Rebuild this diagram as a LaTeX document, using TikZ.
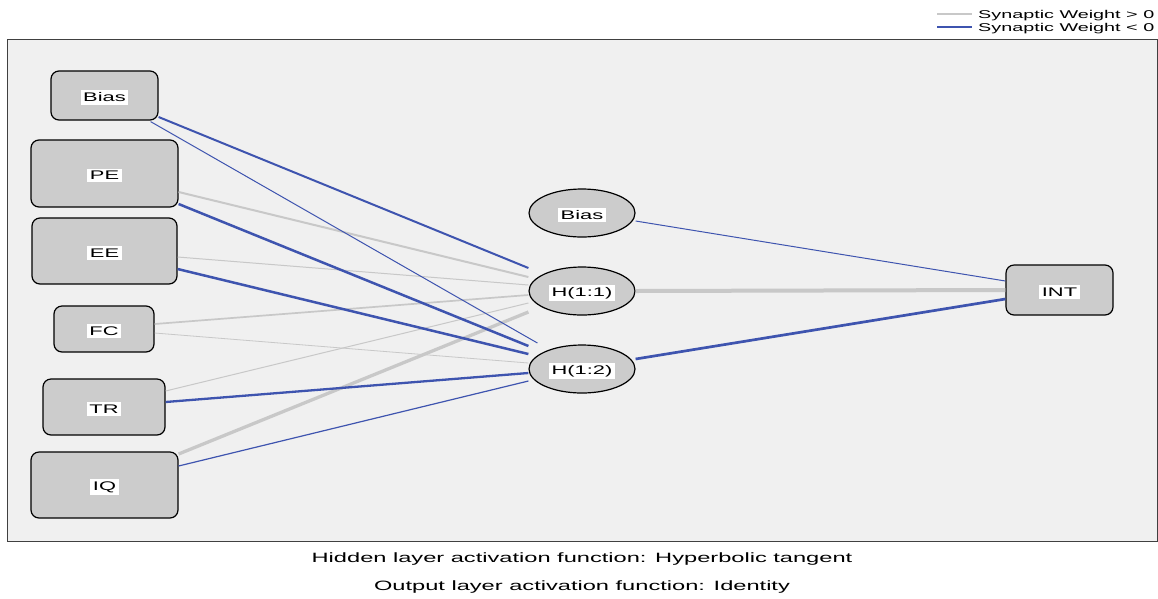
\documentclass[tikz,border=0pt]{standalone}
\usepackage{fontspec}
\setmainfont{Liberation Sans}[FakeStretch=1.75]
\usetikzlibrary{shapes.geometric}
\definecolor{posw}{RGB}{200,200,200}
\definecolor{negw}{RGB}{62,84,175}
\definecolor{unitgray}{RGB}{204,204,204}
\definecolor{panel}{RGB}{240,240,240}
\newcommand\wlabel[1]{\raisebox{-2pt}[\height][\depth]{\setlength{\fboxsep}{2.5pt}\colorbox{white}{#1}}}
\begin{document}
\begin{tikzpicture}[x=1pt,y=-1pt,
  every node/.style={font=\fontsize{12.5}{14}\selectfont},
  unit/.style={draw,line width=1.2pt,fill=unitgray,rounded corners=8pt,inner sep=0pt},
  hidden/.style={draw,line width=1.2pt,fill=unitgray,ellipse,minimum width=106pt,minimum height=48pt,inner sep=0pt},
  posline/.style={draw=posw,line width=#1},
  negline/.style={draw=negw,line width=#1}]
  \useasboundingbox (0,0) rectangle (1158,598);
  % panel:
  \draw[draw=black!75,fill=panel,line width=0.8pt] (7,39) rectangle (1157,541);
  % input layer:
  \node[unit,minimum width=107pt,minimum height=49pt] (bias0) at (104.5,95.5) {\wlabel{Bias}};
  \node[unit,minimum width=147pt,minimum height=67pt] (pe) at (104.5,173.5) {\wlabel{PE}};
  \node[unit,minimum width=145pt,minimum height=66pt] (ee) at (104.5,251) {\wlabel{EE}};
  \node[unit,minimum width=100pt,minimum height=46pt] (fc) at (104,329) {\wlabel{FC}};
  \node[unit,minimum width=122pt,minimum height=56pt] (tr) at (104,407) {\wlabel{TR}};
  \node[unit,minimum width=147pt,minimum height=66pt] (iq) at (104.5,485) {\wlabel{IQ}};
  % hidden layer:
  \node[hidden] (bias1) at (582,213) {\wlabel{Bias}};
  \node[hidden] (h11) at (582,291) {\wlabel{H(1:1)}};
  \node[hidden] (h12) at (582,369) {\wlabel{H(1:2)}};
  % output layer:
  \node[unit,minimum width=107pt,minimum height=50pt] (int) at (1059.5,290) {\wlabel{INT}};
  % weights into H(1:1):
  \draw[negline=2pt] ([yshift=-21.5pt]bias0.east) -- ([yshift=23pt]h11.west);
  \draw[posline=2pt] ([yshift=-18.5pt]pe.east) -- ([yshift=14pt]h11.west);
  \draw[posline=1pt] ([yshift=-6pt]ee.east) -- ([yshift=6pt]h11.west);
  \draw[posline=1.7pt] ([yshift=5pt]fc.east) -- ([yshift=-4pt]h11.west);
  \draw[posline=1pt] ([yshift=16pt]tr.east) -- ([yshift=-12pt]h11.west);
  \draw[posline=3.3pt] ([yshift=31pt]iq.east) -- ([yshift=-21pt]h11.west);
  % weights into H(1:2):
  \draw[negline=1pt] ([xshift=-8pt,yshift=-1pt]bias0.south east) -- ([xshift=9pt,yshift=26pt]h12.west);
  \draw[negline=2.5pt] ([yshift=-30.5pt]pe.east) -- ([yshift=23pt]h12.west);
  \draw[negline=2.5pt] ([yshift=-18pt]ee.east) -- ([yshift=15pt]h12.west);
  \draw[posline=0.8pt] ([yshift=-4pt]fc.east) -- ([yshift=6pt]h12.west);
  \draw[negline=2.3pt] ([yshift=5pt]tr.east) -- ([yshift=-4pt]h12.west);
  \draw[negline=1.2pt] ([yshift=19pt]iq.east) -- ([yshift=-12pt]h12.west);
  % weights into INT:
  \draw[negline=1pt] ([yshift=-8pt]bias1.east) -- ([yshift=9pt]int.west);
  \draw[posline=4pt] (h11.east) -- (int.west);
  \draw[negline=2.7pt] ([yshift=10pt]h12.east) -- ([yshift=-9pt]int.west);
  % legend:
  \node[anchor=west,inner sep=2pt,font=\fontsize{11.3}{13}\selectfont] (legpos) at (976,15.5) {Synaptic Weight > 0};
  \node[anchor=west,inner sep=2pt,font=\fontsize{11.3}{13}\selectfont] (legneg) at (976,29) {Synaptic Weight < 0};
  \coordinate (legposstart) at (937,14);
  \coordinate (legnegstart) at (937,27);
  \draw[posline=1.2pt] (legposstart) -- ([xshift=-4pt]legposstart -| legpos.west);
  \draw[negline=1.2pt] (legnegstart) -- ([xshift=-4pt]legnegstart -| legneg.west);
  % activation functions:
  \node[font=\fontsize{13.5}{15}\selectfont] (hidcap) at (582,559) {Hidden layer activation function: Hyperbolic tangent};
  \node[font=\fontsize{13.5}{15}\selectfont] (outcap) at (582,587) {Output layer activation function: Identity};
\end{tikzpicture}
\end{document}
